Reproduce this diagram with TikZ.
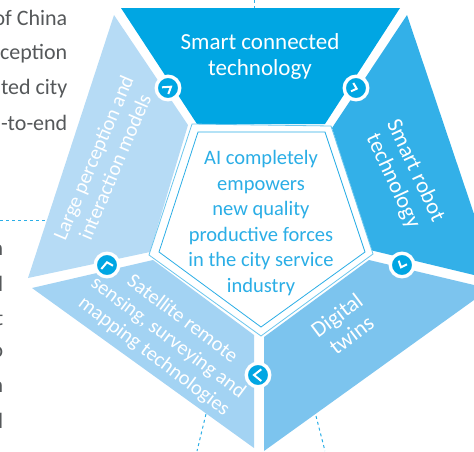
\documentclass[tikz,border=0pt]{standalone}
\usepackage{fontspec}
\setmainfont{Carlito}
\definecolor{cTop}{HTML}{00A6E3}
\definecolor{cRobot}{HTML}{33B0E8}
\definecolor{cTwin}{HTML}{7CC4EE}
\definecolor{cSat}{HTML}{A3D3F3}
\definecolor{cLarge}{HTML}{B6DBF5}
\definecolor{cLine}{HTML}{2BAEE6}
\definecolor{cGrey}{HTML}{55585A}
\tikzset{
  seg/.style={fill=#1,draw=none},
  ring/.style={circle,fill=cTop,draw=white,line width=3.4pt,minimum size=23.5pt,inner sep=0pt},
  chev/.style={draw=white,line width=2pt,line join=miter},
  seglabel/.style={text=white,font=\fontsize{20.5}{23.5}\selectfont,align=center,inner sep=0pt},
  biglabel/.style={text=white,font=\fontsize{22.5}{24.5}\selectfont,align=center,inner sep=0pt},
  toplabel/.style={text=white,font=\fontsize{23}{26}\selectfont,align=center,inner sep=0pt},
  midlabel/.style={text=cLine,font=\fontsize{20.5}{25.6}\selectfont,align=center,inner sep=0pt},
  body/.style={text=cGrey,font=\fontsize{22}{24}\selectfont,anchor=east,inner sep=0pt},
  leader/.style={draw=cLine,line width=1pt,dash pattern=on 3pt off 3pt}
}
\begin{document}
\begin{tikzpicture}[x=1pt,y=-1pt]
\useasboundingbox (0,0) rectangle (474,451);
\begin{scope}
\clip (0,0) rectangle (474,451);
% body text fragments
\node[body] (t1) at (67.5,18) {of China};
\node[body] (t2) at (67.5,54) {ception};
\node[body] (t3) at (67.5,89) {ted city};
\node[body] (t4) at (67.5,123) {-to-end};
\node[body] (b1) at (3.5,250) {n};
\node[body] (b2) at (3.5,284) {d};
\node[body] (b3) at (3.5,319) {t};
\node[body] (b4) at (3.5,352) {o};
\node[body] (b5) at (3.5,387) {n};
\node[body] (b6) at (3.5,421) {d};
% dashed leaders
\coordinate (d1a) at (0,220); \coordinate (d1b) at (49,220);
\coordinate (d2a) at (254,0); \coordinate (d2b) at (254,8);
\coordinate (d3a) at (206,414); \coordinate (d3b) at (197,451);
\coordinate (d4a) at (316,416); \coordinate (d4b) at (325,451);
\draw[leader] (d1a) -- (d1b);
\draw[leader] (d2a) -- (d2b);
\draw[leader] (d3a) -- (d3b);
\draw[leader] (d4a) -- (d4b);
% segments
\fill[seg=cTop] (121,8) -- (400,8) -- (325,124) -- (197,124) -- cycle;
\fill[seg=cRobot] (407,15) -- (474,214) -- (474,275) -- (370,250) -- (332,128) -- cycle;
\fill[seg=cTwin] (369,260) -- (474,285) -- (474,300) -- (264,451) -- (264,337) -- cycle;
\fill[seg=cSat] (32,288) -- (153,260) -- (254,335) -- (254,448) -- cycle;
\fill[seg=cLarge] (114,15) -- (188,125) -- (150,252) -- (28,278) -- cycle;
% centre pentagon
\draw[draw=cLine!70,line width=.8pt,fill=white] (192,124) -- (331,126) -- (373,254) -- (261,336) -- (149,255) -- cycle;
\draw[draw=cLine,line width=.8pt] (198,132) -- (325,132) -- (365,252) -- (261,327) -- (159,252) -- cycle;
\node[midlabel] (mid) at (261,223) {AI completely\\empowers\\new quality\\productive forces\\in the city service\\industry};
% labels
\node[toplabel] (l1) at (260,56.5) {Smart connected\\technology};
\node[biglabel,rotate=-65] (l2) at (404,176) {Smart robot\\technology};
\node[biglabel,rotate=37] (l3) at (344,325) {Digital\\twins};
\node[seglabel,rotate=-37] (l4) at (168,338) {Satellite remote\\sensing, surveying and\\mapping technologies};
\node[seglabel,rotate=67] (l5) at (104,162) {Large perception and\\interaction models};
% rings
\node[ring] (r1) at (168,88) {};
\node[ring] (r2) at (356,88) {};
\node[ring] (r3) at (402,265) {};
\node[ring] (r4) at (258,375) {};
\node[ring] (r5) at (107,265) {};
\draw[chev] (162,87.3) -- (171,86.7) -- (168.3,94);
\draw[chev] (353.3,83) -- (356.7,88.7) -- (351,91.3);
\draw[chev] (398.7,260.7) -- (401,267.3) -- (407,264.3);
\draw[chev] (261.3,369.3) -- (254,375) -- (261.3,381);
\draw[chev] (101.3,269) -- (107,262.3) -- (113,265.7);
\end{scope}
\end{tikzpicture}
\end{document}
